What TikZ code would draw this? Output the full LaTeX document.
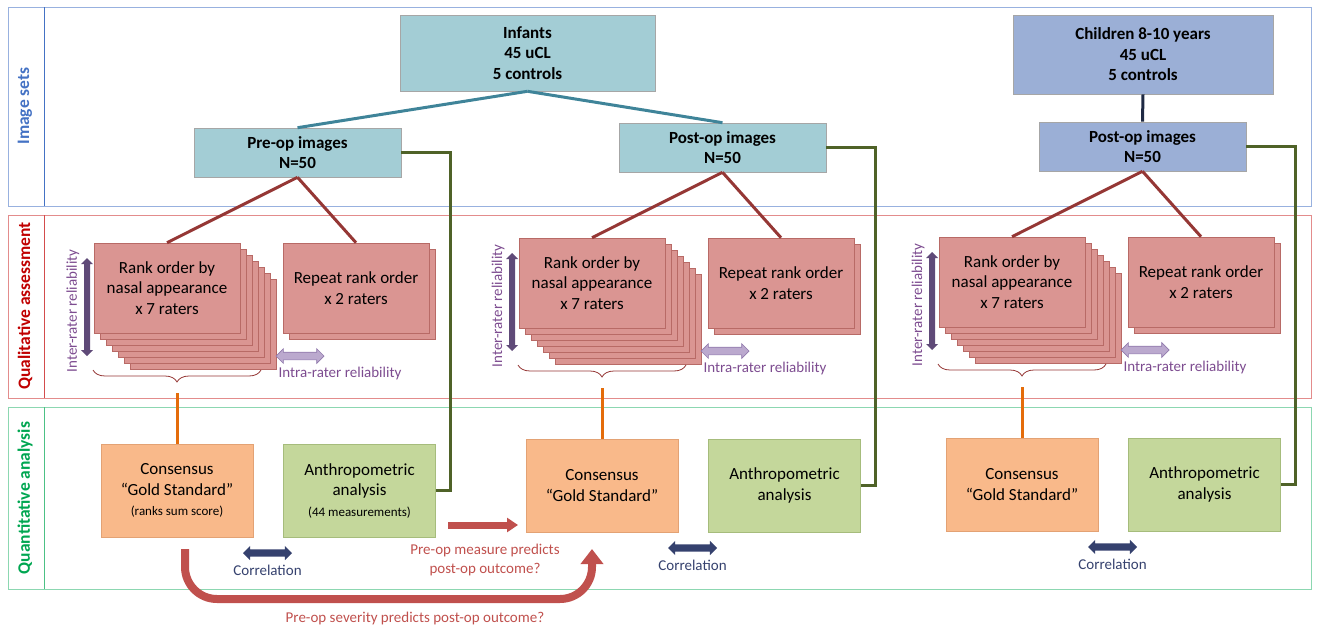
\documentclass[tikz,border=0pt]{standalone}
\usepackage{fontspec}
\setmainfont{Carlito}
\usepackage{tikz}
\usetikzlibrary{arrows.meta,positioning,calc,shapes.arrows,decorations.pathreplacing}
\pgfdeclarelayer{bg}
\pgfsetlayers{bg,main}

\definecolor{tealbox}{HTML}{A3CDD5}
\definecolor{bluebox}{HTML}{9BAFD6}
\definecolor{tealline}{HTML}{3F8499}
\definecolor{navyline}{HTML}{1F2A44}
\definecolor{rankfill}{HTML}{DA9592}
\definecolor{rankdraw}{HTML}{B86A66}
\definecolor{darkred}{HTML}{953735}
\definecolor{consfill}{HTML}{F9B98A}
\definecolor{consdraw}{HTML}{E3A274}
\definecolor{anthfill}{HTML}{C4D79B}
\definecolor{anthdraw}{HTML}{A6BC7C}
\definecolor{olivegreen}{HTML}{4F6228}
\definecolor{orangeline}{HTML}{E46C0A}
\definecolor{interpurple}{HTML}{5F4A78}
\definecolor{purpletext}{HTML}{7D4C90}
\definecolor{intrafill}{HTML}{BBA9CE}
\definecolor{intradraw}{HTML}{9079AC}
\definecolor{corrnavy}{HTML}{35416E}
\definecolor{redarrow}{HTML}{C0504D}
\definecolor{bandblue}{HTML}{4472C4}
\definecolor{bandred}{HTML}{C00000}
\definecolor{bandgreen}{HTML}{00A651}

\newcommand{\subtxt}{\fontsize{13}{16}\selectfont}

\tikzset{
  every node/.style={align=center, inner sep=0pt, font=\fontsize{17}{20.5}\selectfont},
  band/.style={draw=#1, line width=0.9pt},
  sidelabel/.style={rotate=90, font=\fontsize{17.5}{20}\selectfont\bfseries},
  topbox/.style={draw=gray!70, line width=0.6pt, font=\fontsize{17}{20.5}\selectfont\bfseries},
  rankbox/.style={draw=rankdraw, fill=rankfill, line width=0.6pt, minimum width=146, minimum height=90},
  consbox/.style={draw=consdraw, fill=consfill, line width=0.6pt, minimum width=152, minimum height=93},
  anthbox/.style={draw=anthdraw, fill=anthfill, line width=0.6pt, minimum width=152, minimum height=93},
  treeline/.style={line width=3pt},
  interarrow/.style={double arrow, fill=interpurple, inner xsep=0pt, inner ysep=2.8pt,
    double arrow head extend=3pt, minimum height=98pt, rotate=90},
  intraarrow/.style={double arrow, fill=intrafill, draw=intradraw, line width=0.7pt, inner xsep=0pt,
    inner ysep=3.5pt, double arrow head extend=3.5pt, minimum height=48pt},
  corrarrow/.style={double arrow, fill=corrnavy, inner xsep=0pt, inner ysep=3.5pt,
    double arrow head extend=3.5pt, minimum height=49pt},
  purplelabel/.style={text=purpletext, font=\fontsize{15}{19}\selectfont},
  corrlabel/.style={text=corrnavy, font=\fontsize{15}{19}\selectfont},
  redlabel/.style={text=redarrow, font=\fontsize{15}{19}\selectfont}
}

\begin{document}
\begin{tikzpicture}[x=1pt, y=-1pt]
  \useasboundingbox (0,0) rectangle (1318,629);

  \draw[band=bandblue!55] (8,7) rectangle (1311,206);
  \draw[band=bandblue] (44,7) -- (44,206);
  \draw[band=bandred!45] (8,215) rectangle (1311,398);
  \draw[band=bandred!70] (44,215) -- (44,398);
  \draw[band=bandgreen!45] (8,407) rectangle (1311,589);
  \draw[band=bandgreen!70] (44,407) -- (44,589);

  \node[sidelabel, text=bandblue] (lab1) at (25,106) {Image sets};
  \node[sidelabel, text=bandred] (lab2) at (25,306) {Qualitative assessment};
  \node[sidelabel, text=bandgreen] (lab3) at (25,498) {Quantitative analysis};

  \node[topbox, fill=tealbox, minimum width=255, minimum height=76] (inf) at (527.5,53) {Infants\\45 uCL\\5 controls};
  \node[topbox, fill=bluebox, minimum width=260, minimum height=79] (chl) at (1143,54.5) {Children 8-10 years\\45 uCL\\5 controls};

  \foreach \g/\dx/\dy/\imgtext/\imgfill/\constext/\anthtext in {
      1/0/0/{Pre-op images\\N=50}/tealbox/{Consensus\\“Gold Standard”\\{\subtxt (ranks sum score)}}/{Anthropometric\\analysis\\{\subtxt (44 measurements)}},
      2/425/-5/{Post-op images\\N=50}/tealbox/{Consensus\\“Gold Standard”}/{Anthropometric\\analysis},
      3/845/-6/{Post-op images\\N=50}/bluebox/{Consensus\\“Gold Standard”}/{Anthropometric\\analysis}}{
    \begin{scope}[shift={(\dx,\dy)}]
      \node[topbox, fill=\imgfill, minimum width=207, minimum height=49] (img\g) at (297.5,152.5) {\imgtext};
      \node[rankbox] (rank\g) at (167,288) {Rank order by\\nasal appearance\\x 7 raters};
      \node[rankbox] (rep\g) at (356,288) {Repeat rank order\\x 2 raters};
      \begin{pgfonlayer}{bg}    % stacked copies behind the front sheets
        \foreach \k in {6,5,...,1}
          \draw[rankbox] (94+6*\k,243+6*\k) rectangle (240+6*\k,333+6*\k);
        \draw[rankbox] (289,249) rectangle (435,339);
      \end{pgfonlayer}
      \node[consbox] (cons\g) at (177,490.5) {\constext};
      \node[anthbox] (anth\g) at (359.5,490.5) {\anthtext};
      \coordinate (bend\g) at (450,152.5);
      \coordinate (tip\g) at (177,393);

      \draw[treeline, darkred] (img\g.south) -- (rank\g.north);
      \draw[treeline, darkred] (img\g.south) -- (rep\g.north);
      \draw[treeline, olivegreen] (img\g.east) -- (bend\g) |- (anth\g.east);
      \draw[darkred, line width=0.8pt, decorate, decoration={brace, amplitude=12pt}] (261,370) -- (93,370);
      \draw[treeline, orangeline] (tip\g) -- (cons\g.north);

      \node[interarrow] (inter\g) at (87,307) {};
      \node[purplelabel, rotate=90] (interlab\g) at (73,311) {Inter-rater reliability};
      \node[intraarrow] (intra\g) at (300,356) {};
      \node[purplelabel] (intralab\g) at (340,373) {Intra-rater reliability};
      \node[corrarrow] (corr\g) at (267.5,553) {};
      \node[corrlabel] (corrlab\g) at (267.5,570) {Correlation};
    \end{scope}
  }

  \draw[treeline, tealline] (inf.south) -- (img1.north);
  \draw[treeline, tealline] (inf.south) -- (img2.north);
  \draw[treeline, navyline] (chl.south) -- (img3.north);

  \coordinate (sevA) at (185,549);
  \coordinate (sevB) at (592,549);
  \draw[redarrow, line width=8pt, rounded corners=32pt, -{Triangle[length=15pt,width=22pt]}]
    (sevA) -- (185,599) -- (592,599) -- (sevB);
  \coordinate (measA) at (448,525);
  \coordinate (measB) at (518,525);
  \draw[redarrow, line width=7pt, -{Triangle[length=11pt,width=14pt]}] (measA) -- (measB);

  \node[redlabel] (measlab) at (485,560) {Pre-op measure predicts\\post-op outcome?};
  \node[redlabel] (sevlab) at (415,618) {Pre-op severity predicts post-op outcome?};
\end{tikzpicture}
\end{document}
